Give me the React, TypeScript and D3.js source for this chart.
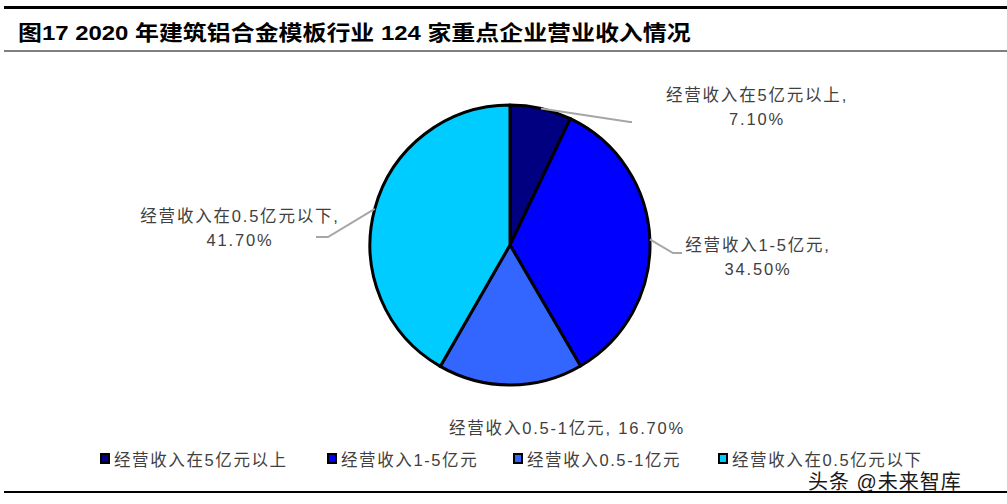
import React from "react";
import * as d3 from "d3";

const categories = ["经营收入在5亿元以上", "经营收入1-5亿元", "经营收入0.5-1亿元", "经营收入在0.5亿元以下"];
const values = [7.1, 34.5, 16.7, 41.7];
const percentLabels = ["7.10%", "34.50%", "16.70%", "41.70%"];
const colors = ["#000080", "#0000FF", "#3366FF", "#00CCFF"];
const title = "图17 2020 年建筑铝合金模板行业 124 家重点企业营业收入情况";

const W = 1007;
const H = 504;
const cx = 510;
const cy = 245;
const R = 140;

const FONT = "'Liberation Sans', Arial, 'Noto Sans CJK SC', sans-serif";

// label layout per slice: leader elbow/end and text anchor
const labelLayout = [
  { elbow: [630, 122], end: [632, 122], text: [757, 101], twoLine: true },
  { elbow: [673, 253], end: [682, 253], text: [758, 251], twoLine: true },
  { elbow: null, end: null, text: [567, 434], twoLine: false },
  { elbow: [328, 237], end: [316, 237], text: [240, 222], twoLine: true },
];

const legendX = [100, 327, 513, 718];

export default function App() {
  const pie = d3.pie<number>().sort(null).value((d) => d)(values);
  const arc = d3.arc<d3.PieArcDatum<number>>().innerRadius(0).outerRadius(R);

  return (
    <svg width={W} height={H} style={{ position: "absolute", left: 0, top: 0, background: "#fff" }}>
      <rect x={0} y={0} width={W} height={H} fill="#fff" />
      <line x1={4} x2={W} y1={7.5} y2={7.5} stroke="#000" strokeWidth={3} />
      <text
        x={18}
        y={40}
        fontFamily={FONT}
        fontWeight="bold"
        fontSize={21}
        fill="#000"
        transform="translate(18,0) scale(1.14,1) translate(-18,0)"
      >
        {title}
      </text>
      <line x1={4} x2={W} y1={51} y2={51} stroke="#000" strokeWidth={1.2} />

      <g transform={`translate(${cx},${cy})`}>
        {pie.map((d, i) => (
          <path key={i} d={arc(d) || ""} fill={colors[i]} stroke="#000" strokeWidth={3} strokeLinejoin="round" />
        ))}
      </g>

      {pie.map((d, i) => {
        const L = labelLayout[i];
        const mid = (d.startAngle + d.endAngle) / 2;
        const sx = cx + Math.sin(mid) * R;
        const sy = cy - Math.cos(mid) * R;
        const textProps = {
          fontFamily: FONT,
          fontSize: 16.5,
          fill: "#404040",
          textAnchor: "middle" as const,
          letterSpacing: 1.8,
        };
        return (
          <g key={i}>
            {L.elbow && (
              <polyline
                points={`${sx},${sy} ${L.elbow[0]},${L.elbow[1]} ${L.end![0]},${L.end![1]}`}
                fill="none"
                stroke="#a6a6a6"
                strokeWidth={2}
              />
            )}
            {L.twoLine ? (
              <text x={L.text[0]} y={L.text[1]} {...textProps}>
                <tspan x={L.text[0]} dy={0}>{categories[i] + ","}</tspan>
                <tspan x={L.text[0]} dy={24}>{percentLabels[i]}</tspan>
              </text>
            ) : (
              <text x={L.text[0]} y={L.text[1]} {...textProps}>
                {categories[i] + ", " + percentLabels[i]}
              </text>
            )}
          </g>
        );
      })}

      {categories.map((c, i) => (
        <g key={c}>
          <rect x={legendX[i] + 1} y={454} width={8} height={9} fill={colors[i]} stroke="#000" strokeWidth={2} />
          <text x={legendX[i] + 14} y={466} fontFamily={FONT} fontSize={16.5} fill="#404040" letterSpacing={1.6}>
            {c}
          </text>
        </g>
      ))}

      <text x={808} y={488.5} fontFamily={FONT} fontSize={20} fill="#1a1a1a" letterSpacing={1}>
        头条 @未来智库
      </text>

      <line x1={4} x2={W} y1={492} y2={492} stroke="#000" strokeWidth={2} />
    </svg>
  );
}
